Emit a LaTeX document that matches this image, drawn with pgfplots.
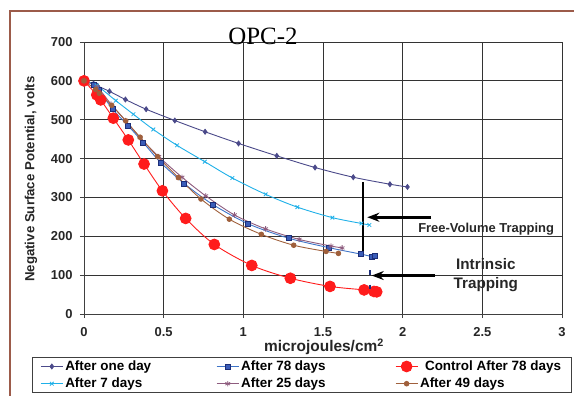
\documentclass[border=0pt]{standalone}
\usepackage{fontspec}
\setmainfont{Liberation Sans}
\newfontfamily\timesfont{Liberation Serif}
\usepackage{pgfplots}
\pgfplotsset{compat=1.18}
\usetikzlibrary{arrows.meta}

\definecolor{frameBrown}{HTML}{9C5B4A}
\definecolor{cOne}{HTML}{4B4A8A}
\definecolor{cSeven}{HTML}{1FB0E8}
\definecolor{cSevEightLine}{HTML}{3E74C8}
\definecolor{cSevEightFill}{HTML}{3A5CB8}
\definecolor{cSevEightDraw}{HTML}{1C2E78}
\definecolor{cCtrl}{HTML}{FF1C1C}
\definecolor{cTwoFive}{HTML}{8E5C7E}
\definecolor{cFourNine}{HTML}{A0603C}

\newcommand{\lfont}{\bfseries\fontsize{13.5}{15}\selectfont}

\begin{document}
\begin{tikzpicture}
% page area: 574 x 396 bp, axis origin at (0,0)
\useasboundingbox (-84bp,-82bp) rectangle (490bp,314bp);
\begin{scope}
  \clip (-84bp,-82bp) rectangle (490bp,314bp);
  \draw[frameBrown, line width=2.4bp] (-74bp,-120bp) -- (-74bp,303bp) -- (520bp,303bp);
\end{scope}

\begin{axis}[
  at={(0,0)}, anchor=south west,
  scale only axis,
  width=478bp, height=272bp,
  xmin=0, xmax=3, ymin=0, ymax=700,
  xtick={0,0.5,1,1.5,2,2.5,3},
  ytick={0,100,200,300,400,500,600,700},
  axis x line*=bottom, axis y line*=left,
  axis line style={-, black!75, line width=0.9bp},
  grid=major,
  major grid style={black!80, line width=0.9bp},
  tick align=outside,
  major tick length=4bp,
  tick style={black!75, line width=0.9bp},
  /pgf/number format/assume math mode=true,
  ticklabel style={font=\bfseries\fontsize{13}{14}\selectfont, text=black!85},
  xticklabel style={yshift=-6bp},
  yticklabel style={xshift=-4bp},
  xlabel={microjoules/cm\textsuperscript{2}},
  ylabel={Negative Surface Potential, volts},
  every axis x label/.style={at={(rel axis cs:0.502,-0.121)}, anchor=center,
     font=\bfseries\fontsize{15.5}{17}\selectfont, text=black!85},
  every axis y label/.style={at={(rel axis cs:-0.111,0.496)}, anchor=center, rotate=90,
     font=\bfseries\fontsize{13.3}{15}\selectfont, text=black!85},
  title={OPC-2},
  every axis title/.style={at={(rel axis cs:0.3745,1.022)}, anchor=center,
     font=\timesfont\fontsize{25}{27}\selectfont},
  legend columns=3,
  legend cell align=left,
  legend style={at={(rel axis cs:-0.1088,-0.158)}, anchor=north west,
     draw=black!75, line width=0.8bp, font=\lfont,
     inner xsep=8bp, inner ysep=1.5bp, row sep=2bp, column sep=0bp},
  legend image code/.code={%
     \draw[mark repeat=2, mark phase=2] plot coordinates {(0bp,0bp) (11bp,0bp) (22bp,0bp)};},
  clip=false,
]

% After one day
\addplot[cOne, line width=0.9bp, smooth, mark=diamond*, mark size=2.4bp,
  mark options={fill=cOne, draw=cOne}] coordinates {
  (0,600) (0.06,593) (0.085,587) (0.16,573) (0.26,552) (0.39,527) (0.57,498)
  (0.76,469) (0.97,439) (1.21,407) (1.45,377) (1.69,352) (1.92,334) (2.03,327)};
\addlegendentry{\makebox[149bp][l]{After one day}}

% After 78 days
\addplot[cSevEightLine, line width=0.9bp, smooth, mark=square*, mark size=2.5bp,
  mark options={fill=cSevEightFill, draw=cSevEightDraw, line width=0.6bp}] coordinates {
  (0,600) (0.06,590) (0.09,578) (0.18,527) (0.276,485) (0.372,441) (0.481,390)
  (0.628,336) (0.808,282) (1.031,232) (1.285,195) (1.534,171) (1.739,154)
  (1.806,148) (1.822,149)};
\addlegendentry{\makebox[152bp][l]{After 78 days}}

% Control after 78 days
\addplot[cCtrl, line width=0.9bp, smooth, mark=*, mark size=5.4bp,
  mark options={fill=cCtrl, draw=cCtrl}] coordinates {
  (0,600) (0.08,564) (0.105,551) (0.184,504) (0.278,448) (0.377,386) (0.492,317)
  (0.638,246) (0.818,179) (1.053,125) (1.295,92) (1.544,71) (1.758,62)
  (1.82,58) (1.837,57)};
\addlegendentry{\hspace{5bp}Control After 78 days}

% After 7 days
\addplot[cSeven, line width=0.9bp, smooth, mark=x, mark size=2.6bp,
  mark options={draw=cSeven, line width=0.8bp}] coordinates {
  (0,600) (0.08,588) (0.2,549) (0.31,514) (0.435,475) (0.584,434) (0.758,392)
  (0.931,350) (1.14,308) (1.339,275) (1.559,248) (1.741,233) (1.791,229)};
\addlegendentry{\makebox[149bp][l]{After 7 days}}

% After 25 days
\addplot[cTwoFive, line width=0.9bp, smooth, mark=asterisk, mark size=2.7bp,
  mark options={draw=cTwoFive, line width=0.8bp}] coordinates {
  (0,600) (0.08,585) (0.17,540) (0.26,498) (0.352,454) (0.469,405) (0.615,352)
  (0.764,304) (0.944,255) (1.14,219) (1.35,192) (1.55,175) (1.62,170)};
\addlegendentry{\makebox[152bp][l]{After 25 days}}

% After 49 days
\addplot[cFourNine, line width=0.9bp, smooth, mark=*, mark size=2.3bp,
  mark options={fill=cFourNine, draw=cFourNine}] coordinates {
  (0,600) (0.073,578) (0.096,568) (0.174,537) (0.262,497) (0.352,455) (0.462,405)
  (0.592,351) (0.734,296) (0.912,244) (1.113,205) (1.316,177) (1.519,161) (1.597,156)};
\addlegendentry{After 49 days}

% short blue marks below the 78-day end point
\addplot[forget plot, only marks, mark=|, mark size=2.3bp,
  mark options={draw=cSevEightDraw, line width=2bp}] coordinates {
  (1.797,107) (1.797,69.5)};

% trapping annotations
\draw[black, line width=2bp] (axis cs:1.749,340) -- (axis cs:1.749,156);
\draw[black, line width=3bp, -{Stealth[length=12bp, width=9bp]}]
  (axis cs:2.178,249) -- (axis cs:1.778,249);
\draw[black, line width=3bp, -{Stealth[length=12bp, width=9bp]}]
  (axis cs:2.203,99) -- (axis cs:1.806,99);
\node[font=\bfseries\fontsize{13}{15}\selectfont, text=black!85, anchor=center]
  at (axis cs:2.524,219) {Free-Volume Trapping};
\node[font=\bfseries\fontsize{15.3}{19}\selectfont, text=black!85, align=center, anchor=center]
  at (axis cs:2.522,99) {Intrinsic\\Trapping};
\end{axis}
\end{tikzpicture}
\end{document}
